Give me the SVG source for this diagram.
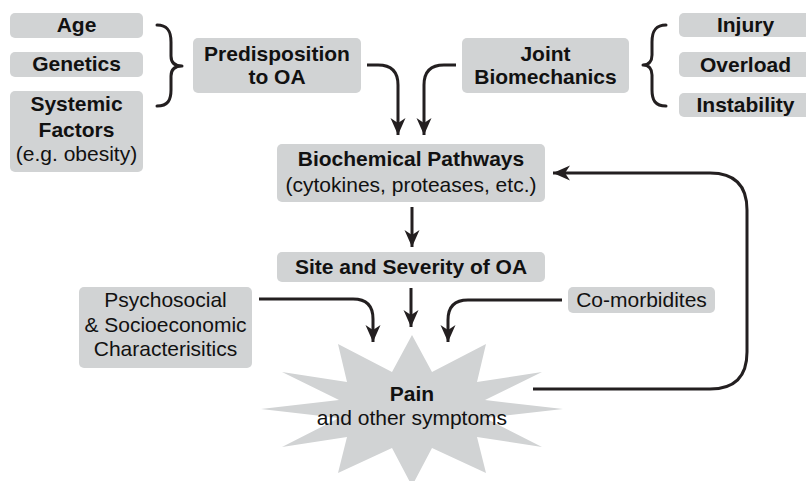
<svg xmlns="http://www.w3.org/2000/svg" width="806" height="481" viewBox="0 0 806 481">
  <style>
    .box { fill: #d1d3d4; }
    .b { font-family: "Liberation Sans", Arial, sans-serif; font-weight: bold; font-size: 21px; fill: #111; text-anchor: middle; }
    .r { font-family: "Liberation Sans", Arial, sans-serif; font-size: 21px; fill: #111; text-anchor: middle; }
    .link { fill: none; stroke: #231f20; stroke-width: 3; }
    .arrow { marker-end: url(#head); }
    .brace { fill: none; stroke: #231f20; stroke-width: 3; stroke-linecap: round; stroke-linejoin: round; }
  </style>
  <defs>
    <marker id="head" markerUnits="userSpaceOnUse" markerWidth="20" markerHeight="20" viewBox="-18 -9 20 18" refX="0" refY="0" orient="auto">
      <path d="M0,0 L-17,-7.5 L-12,0 L-17,7.5 Z" fill="#231f20"/>
    </marker>
  </defs>
  <rect width="806" height="481" fill="#ffffff"/>

  <!-- risk factors on the left -->
  <g id="age">
    <rect class="box" x="10" y="13" width="133" height="25" rx="5"/>
    <text class="b" x="76.5" y="32">Age</text>
  </g>
  <g id="genetics">
    <rect class="box" x="10" y="52" width="133" height="25" rx="5"/>
    <text class="b" x="76.5" y="71">Genetics</text>
  </g>
  <g id="systemic">
    <rect class="box" x="10" y="91" width="133" height="81" rx="5"/>
    <text class="b" x="76.5" y="111">Systemic</text>
    <text class="b" x="76.5" y="137">Factors</text>
    <text class="r" x="76.5" y="161">(e.g. obesity)</text>
  </g>
  <g id="brace-left">
    <path class="brace" d="M157,25 C168,25 171,32 171,42 L171,56 C171,62 174,66 182,66 C174,66 171,70 171,76 L171,90 C171,100 168,106 157,106"/>
  </g>

  <g id="predisposition">
    <rect class="box" x="193" y="38" width="168" height="55" rx="5"/>
    <text class="b" x="277" y="61">Predisposition</text>
    <text class="b" x="277" y="84">to OA</text>
  </g>

  <g id="biomechanics">
    <rect class="box" x="462" y="38" width="167" height="55" rx="5"/>
    <text class="b" x="545.5" y="61">Joint</text>
    <text class="b" x="545.5" y="84">Biomechanics</text>
  </g>

  <!-- mechanical factors on the right -->
  <g id="brace-right">
    <path class="brace" d="M666,25 C655,25 652,32 652,42 L652,55 C652,61 649,65 643,65 C649,65 652,69 652,75 L652,90 C652,100 655,106 666,106"/>
  </g>
  <g id="injury">
    <rect class="box" x="679" y="13" width="133" height="24" rx="5"/>
    <text class="b" x="745.5" y="32">Injury</text>
  </g>
  <g id="overload">
    <rect class="box" x="679" y="52" width="133" height="25" rx="5"/>
    <text class="b" x="745.5" y="72">Overload</text>
  </g>
  <g id="instability">
    <rect class="box" x="679" y="93" width="133" height="24" rx="5"/>
    <text class="b" x="745.5" y="112">Instability</text>
  </g>

  <g id="biochemical">
    <rect class="box" x="277" y="144" width="268" height="58" rx="5"/>
    <text class="b" x="411" y="166">Biochemical Pathways</text>
    <text class="r" x="411" y="192">(cytokines, proteases, etc.)</text>
  </g>

  <g id="site">
    <rect class="box" x="277" y="252" width="268" height="30" rx="5"/>
    <text class="b" x="411" y="274">Site and Severity of OA</text>
  </g>

  <g id="psychosocial">
    <rect class="box" x="79" y="287" width="173" height="81" rx="5"/>
    <text class="r" x="165.5" y="307">Psychosocial</text>
    <text class="r" x="165.5" y="332">&amp; Socioeconomic</text>
    <text class="r" x="165.5" y="356">Characterisitics</text>
  </g>

  <g id="comorbidities">
    <rect class="box" x="568" y="287" width="147" height="26" rx="5"/>
    <text class="r" x="641.5" y="307">Co-morbidites</text>
  </g>

  <g id="pain">
    <polygon class="box" points="412,335 432,372 486,344 477,382 542,372 485,400 563,409 485,418 542,447 477,437 486,473 432,448 412,486 392,448 338,473 347,437 282,447 339,418 261,409 339,400 282,372 347,382 338,344 392,372"/>
    <text class="b" x="412" y="401">Pain</text>
    <text class="r" x="412" y="425">and other symptoms</text>
  </g>

  <g id="connectors">
    <path class="link arrow" d="M367,65 L378,65 Q398,65 398,85 L398,135"/>
    <path class="link arrow" d="M456,65 L444,65 Q424,65 424,85 L424,135"/>
    <path class="link arrow" d="M412,207 L412,247"/>
    <path class="link arrow" d="M411,288 L411,327"/>
    <path class="link arrow" d="M259,299 L353,299 Q373,299 373,319 L373,342"/>
    <path class="link arrow" d="M562,300 L468,300 Q448,300 448,320 L448,342"/>
    <path class="link arrow" d="M533,389 L710,389 Q747,389 747,352 L747,210 Q747,173 710,173 L553,173"/>
  </g>
</svg>
